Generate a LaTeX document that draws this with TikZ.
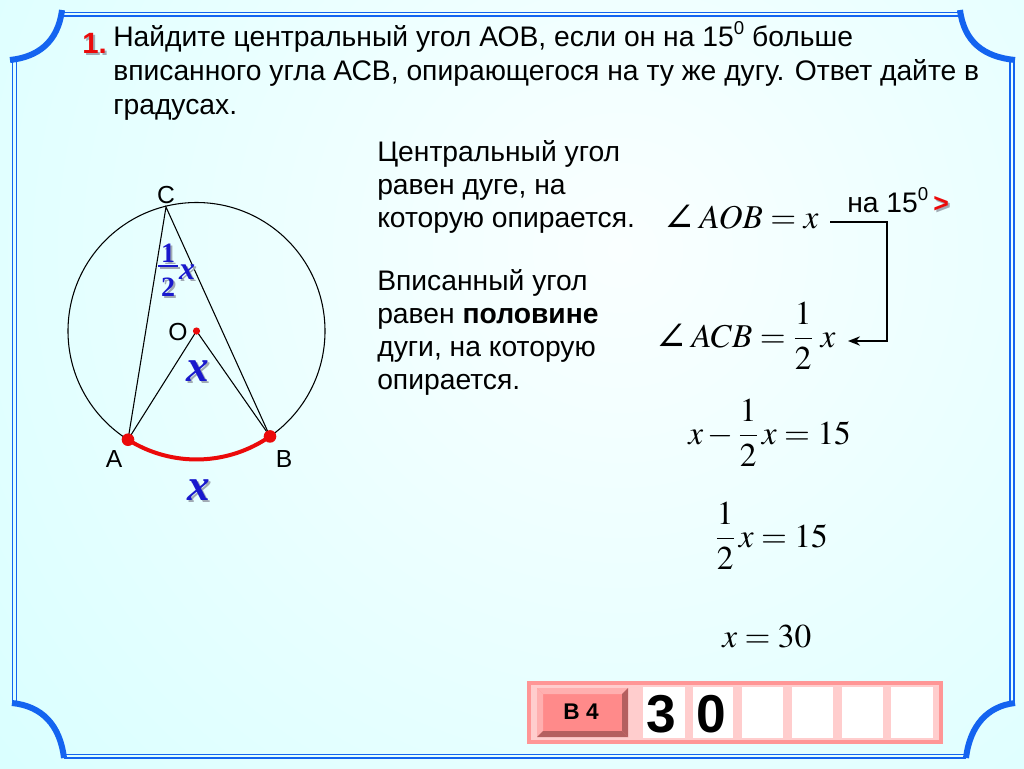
\documentclass[tikz,border=0pt]{standalone}
\usepackage{mathptmx}
\usepackage[no-math]{fontspec}
\setmainfont{Liberation Sans}
\newfontfamily\tnr{Liberation Serif}
\newfontfamily\djv{DejaVu Serif}
\usetikzlibrary{arrows.meta}
\definecolor{bgc}{RGB}{204,255,255}
\definecolor{bgw}{RGB}{250,255,255}
\definecolor{fblue}{RGB}{20,100,240}
\definecolor{lblue}{RGB}{25,25,205}
\definecolor{ared}{RGB}{235,10,10}
\definecolor{pinkb}{RGB}{255,150,150}
\definecolor{pinkf}{RGB}{255,205,205}
\definecolor{btn}{RGB}{255,138,138}
\definecolor{btnd}{RGB}{180,95,95}
\definecolor{btnl}{RGB}{255,175,175}
\definecolor{shad}{RGB}{160,170,180}
\newcommand{\hf}{{\displaystyle\frac{1}{2}}}
\newcommand{\ang}{\mathord{\raisebox{-2.5pt}{\djv\fontsize{30}{30}\selectfont ∠}}\,}
\newcommand{\mydeg}{\raisebox{0.42em}{\fontsize{14}{14}\selectfont 0}}
\begin{document}
\begin{tikzpicture}[x=0.75pt,y=-0.75pt,
  txt/.style={anchor=base west,inner sep=0pt,font=\fontsize{21.2}{24}\selectfont},
  mth/.style={anchor=base west,inner sep=0pt,font=\fontsize{25}{28}\selectfont},
  lbl/.style={anchor=base,inner sep=0pt,font=\fontsize{18.5}{22}\selectfont},
  bigx/.style={inner sep=0pt,font=\fontsize{34}{40}\selectfont\tnr\bfseries\itshape},
  frac/.style={inner sep=0pt,font=\fontsize{21}{24}\selectfont\tnr\bfseries},
  frm/.style={draw=fblue,line width=1.3pt},
  crn/.style={draw=fblue,line width=4.5pt},
  fig/.style={draw=black,line width=0.8pt},
  conn/.style={draw=black,line width=1.1pt},
  cell/.style={fill=white},
  dig/.style={anchor=base,inner sep=0pt,font=\fontsize{40}{44}\selectfont\bfseries}
]
\useasboundingbox (0,0) rectangle (1024,768);
% background
\fill[bgc] (0,0) rectangle (1024,768);
\begin{scope}
\clip (0,0) rectangle (1024,768);
\shade[inner color=bgw, outer color=bgc] (620,250) circle[radius=1150];
\end{scope}
% frame
\draw[frm] (62,12.5) -- (960,12.5);
\draw[frm] (62,16) -- (960,16);
\draw[frm] (12.5,60) -- (12.5,703);
\draw[frm] (16.5,60) -- (16.5,703);
\draw[frm] (1010,60) -- (1010,703);
\draw[frm] (1014,60) -- (1014,703);
\draw[frm] (64,754.5) -- (966,754.5);
\draw[frm] (64,758) -- (966,758);
\draw[crn] (10,60) .. controls (38,57) and (58,42) .. (62,10);
\draw[crn] (960,10) .. controls (964,42) and (984,57) .. (1015,60);
\draw[crn] (12,703) .. controls (42,706) and (60,725) .. (64,758);
\draw[crn] (966,758) .. controls (970,725) and (988,706) .. (1015,703);
% title
\node[anchor=base west,inner sep=0pt,font=\fontsize{22}{26}\selectfont\bfseries,text=shad] (nums) at (84,55) {1.};
\node[anchor=base west,inner sep=0pt,font=\fontsize{22}{26}\selectfont\bfseries,text=ared] (num) at (82,53) {1.};
\node[txt] (t1) at (113,46) {Найдите центральный угол АОВ, если он на 15\mydeg{} больше};
\node[txt] (t2) at (113,80) {вписанного угла АСВ, опирающегося на ту же дугу. Ответ дайте в};
\node[txt] (t3) at (113,114) {градусах.};
% right text
\node[txt] (r1) at (377,161) {Центральный угол};
\node[txt] (r2) at (377,194) {равен дуге, на};
\node[txt] (r3) at (377,227) {которую опирается.};
\node[txt] (r4) at (377,290) {Вписанный угол};
\node[txt] (r5) at (377,323) {равен \textbf{половине}};
\node[txt] (r6) at (377,356) {дуги, на которую};
\node[txt] (r7) at (377,389) {опирается.};
% circle
\coordinate (O) at (196.5,331);
\coordinate (A) at (128,439.7);
\coordinate (B) at (270,436.4);
\coordinate (C) at (166,207);
\draw[fig] (O) circle[radius=128.5];
\draw[fig] (A) -- (C) -- (B);
\draw[fig] (A) -- (O) -- (B);
\draw[ared,line width=3pt] (A) arc[start angle=122.2, end angle=55.1, radius=128.5];
\fill[ared] (A) circle[radius=6.3];
\fill[ared] (B) circle[radius=6.3];
\fill[ared] (O) circle[radius=3.6];
\node[lbl] (lC) at (166,203) {C};
\node[lbl] (lO) at (178,340) {O};
\node[lbl] (lA) at (114,467) {A};
\node[lbl] (lB) at (284,467) {B};
% blue labels
\node[frac,text=shad] (f1s) at (170,255.5) {1};
\node[frac,text=shad] (f2s) at (170,289.5) {2};
\draw[shad,line width=1.8pt] (160,268) -- (180,268);
\node[frac,text=lblue] (f1) at (168,253.5) {1};
\node[frac,text=lblue] (f2) at (168,287.5) {2};
\draw[lblue,line width=1.8pt] (158,266) -- (178,266);
\node[inner sep=0pt,font=\fontsize{24}{28}\selectfont\tnr\bfseries\itshape,text=shad] (fxs) at (189,274) {x};
\node[inner sep=0pt,font=\fontsize{24}{28}\selectfont\tnr\bfseries\itshape,text=lblue] (fx) at (187,272) {x};
\node[bigx,text=shad] (xs1) at (200,373) {x};
\node[bigx,text=lblue] (x1) at (198,371) {x};
\node[bigx,text=shad] (xs2) at (201,492) {x};
\node[bigx,text=lblue] (x2) at (199,490) {x};
% equations
\node[mth] (e1) at (662,228) {$\ang AOB = x$};
\node[txt] (n15) at (847,212) {на 15\mydeg};
\node[anchor=base west,inner sep=0pt,font=\fontsize{20}{24}\selectfont\bfseries,text=shad] (gts) at (935,214) {>};
\node[anchor=base west,inner sep=0pt,font=\fontsize{20}{24}\selectfont\bfseries,text=ared] (gt) at (933,212) {>};
\node[mth] (e2) at (654,347) {$\ang ACB = \hf\;x$};
\node[mth] (e3) at (688,444) {$x - \hf\,x = 15$};
\node[mth] (e4) at (715,547) {$\hf\,x = 15$};
\node[mth] (e5) at (722,647) {$x = 30$};
\coordinate (k1) at (830,222);
\coordinate (k2) at (887,222);
\coordinate (k3) at (887,341);
\coordinate (k4) at (848,341);
\draw[conn,-{Stealth[length=9pt,width=7pt]}] (k1) -- (k2) -- (k3) -- (k4);
% answer box
\draw[pinkb,line width=2.5pt,fill=pinkf] (529,683) rectangle (941,742);
\fill[btn] (537,688) rectangle (628,737);
\fill[btnl] (537,688) -- (628,688) -- (622,694) -- (543,694) -- cycle;
\fill[btnl] (537,688) -- (543,694) -- (543,731) -- (537,737) -- cycle;
\fill[btnd] (628,688) -- (628,737) -- (622,731) -- (622,694) -- cycle;
\fill[btnd] (537,737) -- (628,737) -- (622,731) -- (543,731) -- cycle;
\node[inner sep=0pt,font=\fontsize{17}{20}\selectfont\bfseries] (b4) at (581,712) {В 4};
\fill[cell] (643,687) rectangle (685,738);
\fill[cell] (693,687) rectangle (733,738);
\fill[cell] (742,687) rectangle (783,738);
\fill[cell] (792,687) rectangle (833,738);
\fill[cell] (842,687) rectangle (883,738);
\fill[cell] (891,687) rectangle (933,738);
\node[dig] (d1) at (661,732) {3};
\node[dig] (d2) at (711,732) {0};
\end{tikzpicture}
\end{document}
